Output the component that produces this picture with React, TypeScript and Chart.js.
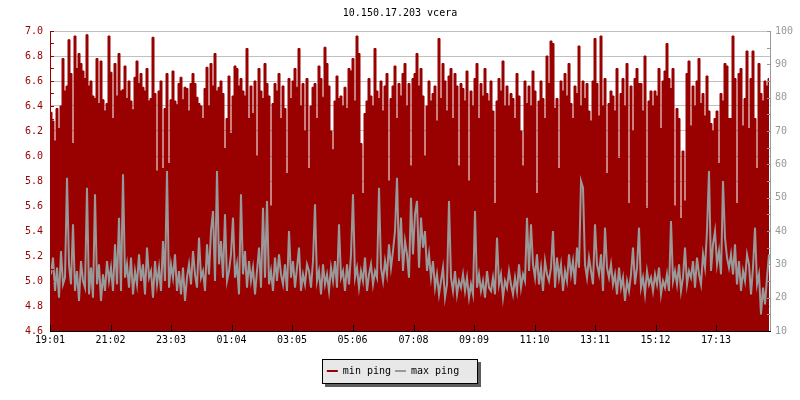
import React, { useEffect, useRef } from 'react';
import { Chart, registerables } from 'chart.js';

Chart.register(...registerables);

const TITLE = '10.150.17.203 vcera';
const SERIES_NAMES = ['min ping', 'max ping'];
const START_TIME = '19:01';
const SAMPLE_MINUTES = 4;
const SPAN_MINUTES = 1440;
const TIME_LABELS = ['19:01', '21:02', '23:03', '01:04', '03:05', '05:06', '07:08', '09:09', '11:10', '13:11', '15:12', '17:13'];
const LEFT_TICKS = [4.6, 4.8, 5.0, 5.2, 5.4, 5.6, 5.8, 6.0, 6.2, 6.4, 6.6, 6.8, 7.0];
const RIGHT_TICKS = [10, 20, 30, 40, 50, 60, 70, 80, 90, 100];

// min ping (left axis), one value per 4 minutes
const MIN_PING = [
  6.35, 6.28, 6.12, 6.38, 6.22, 6.40, 6.78, 6.52, 6.56, 6.93,
  6.66, 6.10, 6.96, 6.70, 6.82, 6.74, 6.68, 6.62, 6.97, 6.56,
  6.60, 6.48, 6.46, 6.78, 6.42, 6.76, 6.45, 6.36, 6.42, 6.96,
  6.67, 6.30, 6.74, 6.48, 6.82, 6.52, 6.53, 6.72, 6.46, 6.60,
  6.44, 6.37, 6.63, 6.76, 6.58, 6.66, 6.55, 6.52, 6.70, 6.44,
  6.46, 6.95, 6.50, 5.88, 6.52, 6.60, 5.90, 6.38, 6.66, 5.94,
  6.45, 6.68, 6.44, 6.41, 6.58, 6.63, 6.45, 6.55, 6.54, 6.36,
  6.58, 6.66, 6.58, 6.47, 6.42, 6.40, 6.30, 6.54, 6.71, 6.40,
  6.74, 6.56, 6.82, 6.52, 6.55, 6.60, 6.50, 6.06, 6.30, 6.64,
  6.18, 6.48, 6.72, 6.70, 6.56, 6.62, 6.52, 6.48, 6.86, 6.30,
  6.56, 6.34, 6.60, 6.00, 6.70, 6.52, 6.46, 6.74, 6.58, 6.48,
  5.60, 6.42, 6.58, 6.52, 6.66, 6.30, 6.56, 6.38, 5.86, 6.62,
  6.46, 6.60, 6.70, 6.55, 6.86, 6.40, 6.58, 6.20, 6.62, 5.90,
  6.40, 6.55, 6.58, 6.30, 6.72, 6.62, 6.47, 6.87, 6.74, 6.56,
  6.20, 6.05, 6.44, 6.64, 6.46, 6.48, 6.40, 6.55, 6.38, 6.70,
  6.68, 6.78, 6.44, 6.96, 6.82, 6.10, 5.70, 6.34, 6.44, 6.62,
  6.48, 6.40, 6.86, 6.52, 6.46, 6.60, 6.36, 6.56, 6.66, 5.80,
  6.46, 6.56, 6.72, 6.30, 6.58, 6.48, 6.66, 6.74, 6.40, 6.58,
  5.92, 6.62, 6.66, 6.82, 6.56, 6.70, 6.48, 6.00, 6.40, 6.60,
  6.44, 6.50, 6.56, 6.28, 6.94, 6.46, 6.74, 6.60, 6.36, 6.64,
  6.70, 6.30, 6.66, 6.56, 5.92, 6.58, 6.54, 6.44, 6.68, 5.80,
  6.52, 6.40, 6.62, 6.74, 6.30, 6.58, 6.48, 6.70, 6.50, 6.44,
  6.60, 6.36, 5.62, 6.44, 6.62, 6.52, 6.76, 6.40, 6.56, 6.40,
  6.50, 6.46, 6.30, 6.66, 6.48, 6.20, 5.92, 6.60, 6.42, 6.56,
  6.40, 6.68, 6.52, 5.70, 6.44, 6.60, 6.46, 6.30, 6.80, 6.58,
  6.92, 6.90, 6.38, 6.46, 5.90, 6.60, 6.52, 6.66, 6.48, 6.74,
  6.42, 6.30, 6.56, 6.50, 6.88, 6.40, 6.60, 6.46, 6.58, 6.36,
  6.28, 6.60, 6.94, 6.58, 6.32, 6.96, 6.40, 6.62, 5.86, 6.42,
  6.52, 6.48, 6.36, 6.70, 5.98, 6.50, 6.62, 6.40, 6.74, 5.62,
  6.56, 6.20, 6.62, 6.70, 6.58, 6.58, 6.36, 6.80, 5.58, 6.44,
  6.52, 6.40, 6.52, 6.48, 6.70, 6.22, 6.60, 6.68, 6.90, 6.62,
  6.54, 6.70, 5.60, 6.38, 6.30, 5.50, 6.04, 5.64, 6.66, 6.76,
  6.24, 6.56, 6.40, 6.60, 6.78, 6.42, 6.50, 6.32, 6.64, 6.36,
  6.26, 6.20, 6.30, 6.36, 5.94, 6.50, 6.44, 6.74, 6.72, 6.30,
  6.30, 6.96, 6.62, 5.62, 6.66, 6.70, 6.24, 6.46, 6.84, 6.22,
  6.62, 6.84, 6.30, 5.90, 6.74, 6.50, 6.44, 6.60, 6.56, 6.62,
];

// max ping (right axis), one value per 4 minutes
const MAX_PING = [
  27, 32, 22, 29, 20, 34, 24, 26, 56, 30,
  24, 42, 22, 28, 19, 31, 25, 23, 53, 21,
  29, 20, 51, 24, 30, 19, 27, 22, 31, 25,
  29, 22, 36, 24, 44, 22, 57, 26, 30, 23,
  32, 21, 28, 24, 33, 25, 30, 21, 35, 26,
  28, 20, 31, 24, 29, 22, 37, 25, 58, 23,
  30, 26, 33, 22, 28, 21, 29, 19, 26, 30,
  24, 34, 27, 23, 38, 26, 28, 22, 36, 27,
  40, 46, 25, 58, 30, 37, 26, 45, 25, 28,
  33, 44, 26, 30, 21, 51, 27, 34, 23, 31,
  25, 29, 21, 28, 35, 23, 47, 26, 49, 24,
  28, 22, 32, 25, 33, 27, 24, 30, 22, 40,
  26, 31, 23, 29, 35, 22, 27, 24, 30, 28,
  23, 31, 48, 25, 28, 21, 30, 24, 27, 22,
  29, 25, 31, 23, 42, 26, 28, 22, 30, 24,
  33, 51, 26, 29, 23, 28, 25, 32, 22, 27,
  30, 24, 28, 26, 53, 29, 25, 31, 27, 36,
  29, 34, 40, 56, 31, 44, 28, 37, 33, 26,
  50, 33, 45, 49, 29, 44, 35, 40, 28, 33,
  26, 31, 23, 27, 21, 25, 29, 20, 24, 49,
  26, 22, 28, 21, 25, 23, 27, 22, 26, 20,
  24, 21, 46, 23, 27, 22, 25, 20, 28, 23,
  22, 26, 21, 38, 24, 27, 20, 25, 23, 28,
  24, 21, 26, 22, 30, 23, 27, 25, 44, 28,
  42, 30, 26, 33, 24, 29, 22, 31, 27, 25,
  29, 40, 23, 32, 26, 30, 22, 28, 25, 33,
  27, 31, 24, 35, 29, 55, 53, 30, 26, 32,
  28, 24, 42, 30, 27, 33, 22, 41, 29, 26,
  30, 24, 27, 21, 29, 23, 26, 19, 25, 22,
  27, 35, 24, 29, 41, 23, 26, 21, 28, 24,
  26, 22, 27, 24, 29, 21, 25, 23, 27, 22,
  43, 25, 28, 24, 30, 22, 26, 35, 24, 28,
  26, 31, 23, 32, 27, 24, 33, 29, 40, 58,
  28, 36, 40, 30, 34, 27, 55, 38, 32, 29,
  33, 27, 36, 24, 31, 22, 28, 25, 33, 30,
  21, 29, 41, 24, 27, 15, 23, 18, 26, 33,
];

const RED = '#990000';
const GRAY = '#999999';
const FONT = 'DejaVu Sans Mono';
const LEGEND_SHIFT = -7;

const toMinutes = (hhmm: string) => {
  const [h, m] = hhmm.split(':').map(Number);
  return h * 60 + m;
};
const sinceStart = (hhmm: string) => {
  let d = toMinutes(hhmm) - toMinutes(START_TIME);
  if (d < 0) d += 1440;
  return d;
};
const TICK_MINUTES = TIME_LABELS.map(sinceStart);

const decorPlugin = {
  id: 'rrdDecor',
  afterLayout(chart: any) {
    const lg = chart.legend;
    if (lg) {
      lg.left += LEGEND_SHIFT;
      lg.right += LEGEND_SHIFT;
    }
  },
  beforeDraw(chart: any) {
    const lg = chart.legend;
    if (!lg || !lg.legendHitBoxes || lg.legendHitBoxes.length === 0) return;
    const hb = lg.legendHitBoxes;
    const first = hb[0];
    const last = hb[hb.length - 1];
    const left = Math.round(first.left) - 5;
    const right = Math.round(last.left + last.width) + 18;
    const cy = Math.round(first.top + first.height / 2);
    const top = cy - 12;
    const h = 24;
    const w = right - left;
    const ctx = chart.ctx;
    ctx.save();
    ctx.fillStyle = '#5e5e5e';
    ctx.fillRect(left + 3, top + 3, w + 1, h + 1);
    ctx.fillStyle = '#e8e8e8';
    ctx.fillRect(left, top, w, h);
    ctx.strokeStyle = '#000000';
    ctx.lineWidth = 1;
    ctx.strokeRect(left + 0.5, top + 0.5, w, h);
    ctx.restore();
  },
  afterDatasetsDraw(chart: any) {
    const { ctx, chartArea: a, scales } = chart;
    const xs = scales.x;
    const yl = scales.y;
    const yr = scales.y2;
    ctx.save();
    ctx.lineWidth = 1;
    // left axis
    ctx.strokeStyle = RED;
    ctx.beginPath();
    ctx.moveTo(a.left + 0.5, a.top);
    ctx.lineTo(a.left + 0.5, a.bottom + 1);
    for (let k = 46; k <= 70; k++) {
      const py = Math.round(yl.getPixelForValue(k / 10)) + 0.5;
      ctx.moveTo(a.left, py);
      ctx.lineTo(a.left + 4, py);
    }
    ctx.stroke();
    // right axis
    ctx.strokeStyle = GRAY;
    ctx.beginPath();
    ctx.moveTo(a.right + 0.5, a.top);
    ctx.lineTo(a.right + 0.5, a.bottom + 1);
    for (let v = 10; v <= 100; v += 5) {
      const py = Math.round(yr.getPixelForValue(v)) + 0.5;
      ctx.moveTo(a.right - 3, py);
      ctx.lineTo(a.right + 1, py);
    }
    ctx.stroke();
    // bottom axis
    ctx.strokeStyle = '#000000';
    ctx.beginPath();
    ctx.moveTo(a.left, a.bottom + 0.5);
    ctx.lineTo(a.right + 1, a.bottom + 0.5);
    TICK_MINUTES.forEach((m) => {
      const px = Math.round(xs.getPixelForValue(m)) + 0.5;
      ctx.moveTo(px, a.bottom + 0.5);
      ctx.lineTo(px, a.bottom - 6);
    });
    ctx.stroke();
    ctx.restore();
  },
};

export default function App() {
  const canvasRef = useRef<HTMLCanvasElement | null>(null);

  useEffect(() => {
    const canvas = canvasRef.current;
    if (!canvas) return;
    const minData = MIN_PING.map((v, i) => ({ x: i * SAMPLE_MINUTES + SAMPLE_MINUTES / 2, y: v }));
    const maxData = MAX_PING.map((v, i) => ({ x: i * SAMPLE_MINUTES + SAMPLE_MINUTES / 2, y: v }));

    const chart = new Chart(canvas, {
      type: 'line',
      data: {
        datasets: [
          {
            label: SERIES_NAMES[0],
            data: minData,
            yAxisID: 'y',
            borderColor: RED,
            backgroundColor: RED,
            borderWidth: 1,
            fill: 'start',
            stepped: 'middle',
            pointRadius: 0,
            order: 1,
          },
          {
            label: SERIES_NAMES[1],
            data: maxData,
            yAxisID: 'y2',
            borderColor: GRAY,
            backgroundColor: GRAY,
            borderWidth: 2,
            fill: false,
            tension: 0,
            pointRadius: 0,
            order: 0,
          },
        ],
      },
      options: {
        responsive: false,
        animation: false,
        events: [],
        layout: { padding: { top: 0, bottom: 14, left: 0, right: 0 } },
        plugins: {
          title: {
            display: true,
            text: TITLE,
            color: '#000000',
            font: { family: FONT, size: 10, weight: 'normal' },
            padding: { top: 7, bottom: 12 },
          },
          legend: {
            display: true,
            position: 'bottom',
            labels: {
              font: { family: FONT, size: 10 },
              color: '#000000',
              boxWidth: 11,
              boxHeight: 2,
              padding: 4,
              generateLabels: (c: any) =>
                c.data.datasets.map((ds: any, i: number) => ({
                  text: ds.label,
                  fillStyle: ds.borderColor,
                  strokeStyle: ds.borderColor,
                  lineWidth: 0,
                  hidden: false,
                  datasetIndex: i,
                  fontColor: '#000000',
                })),
            },
          },
          tooltip: { enabled: false },
        },
        scales: {
          x: {
            type: 'linear',
            position: 'bottom',
            min: 0,
            max: SPAN_MINUTES,
            afterBuildTicks: (scale: any) => {
              scale.ticks = TICK_MINUTES.map((v) => ({ value: v }));
            },
            afterFit: (scale: any) => {
              scale.height = 31;
            },
            ticks: {
              autoSkip: false,
              maxRotation: 0,
              minRotation: 0,
              padding: 3,
              color: '#000000',
              font: { family: FONT, size: 10 },
              callback: (v: any) => {
                const idx = TICK_MINUTES.indexOf(Number(v));
                return idx >= 0 ? TIME_LABELS[idx] : '';
              },
            },
            grid: { display: false, drawTicks: false },
            border: { display: false },
          },
          y: {
            type: 'linear',
            position: 'left',
            min: 4.6,
            max: 7.0,
            afterBuildTicks: (scale: any) => {
              scale.ticks = LEFT_TICKS.map((v) => ({ value: v }));
            },
            afterFit: (scale: any) => {
              scale.width = 50;
            },
            ticks: {
              padding: 7,
              color: RED,
              font: { family: FONT, size: 10 },
              callback: (v: any) => Number(v).toFixed(1),
            },
            grid: { color: '#c0c0c0', lineWidth: 1, drawTicks: false },
            border: { display: false },
          },
          y2: {
            type: 'linear',
            position: 'right',
            min: 10,
            max: 100,
            afterBuildTicks: (scale: any) => {
              scale.ticks = RIGHT_TICKS.map((v) => ({ value: v }));
            },
            afterFit: (scale: any) => {
              scale.width = 30;
            },
            ticks: {
              padding: 5,
              color: GRAY,
              font: { family: FONT, size: 10 },
              callback: (v: any) => String(v),
            },
            grid: { display: false, drawTicks: false },
            border: { display: false },
          },
        },
      },
      plugins: [decorPlugin],
    } as any);

    return () => {
      chart.destroy();
    };
  }, []);

  return (
    <div style={{ position: 'absolute', left: 0, top: 0, width: 800, height: 400, background: '#ffffff' }}>
      <canvas ref={canvasRef} width={800} height={400} style={{ display: 'block' }} />
    </div>
  );
}
